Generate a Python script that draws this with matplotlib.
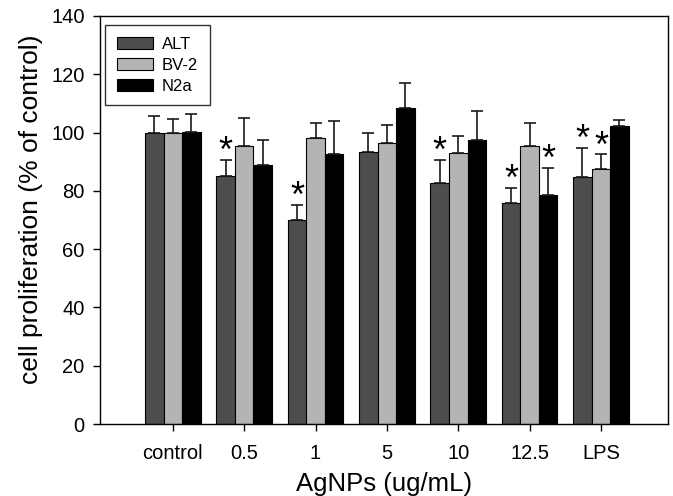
import numpy as np
import matplotlib.pyplot as plt

plt.rcParams['font.family'] = ['Liberation Sans', 'DejaVu Sans']

categories = ['control', '0.5', '1', '5', '10', '12.5', 'LPS']
alt = [100.0, 85.2, 70.0, 93.3, 82.8, 75.8, 84.9]
alt_err = [5.8, 5.3, 5.2, 6.5, 7.9, 5.2, 9.8]
bv2 = [100.0, 95.5, 98.1, 96.3, 92.9, 95.2, 87.5]
bv2_err = [4.6, 9.4, 5.3, 6.3, 6.0, 8.0, 5.0]
n2a = [100.1, 88.7, 92.7, 108.3, 97.6, 78.4, 102.4]
n2a_err = [6.3, 8.7, 11.3, 8.6, 9.8, 9.3, 2.0]
# significance marks (*)
alt_sig = [0, 1, 1, 0, 1, 1, 1]
bv2_sig = [0, 0, 0, 0, 0, 0, 1]
n2a_sig = [0, 0, 0, 0, 0, 1, 0]

series = [
    ('ALT', alt, alt_err, alt_sig, '#4d4d4d'),
    ('BV-2', bv2, bv2_err, bv2_sig, '#b4b4b4'),
    ('N2a', n2a, n2a_err, n2a_sig, '#000000'),
]

fig, ax = plt.subplots(figsize=(6.73, 4.96), dpi=100)
fig.subplots_adjust(left=0.1486, right=0.9926, bottom=0.145, top=0.968)

x = np.arange(len(categories))
w = 0.26
for i, (name, vals, errs, sig, col) in enumerate(series):
    pos = x + (i - 1) * w
    ax.bar(pos, vals, w, color=col, edgecolor='black', linewidth=0.8, label=name,
           yerr=[np.zeros(len(errs)), errs], capsize=4.5,
           error_kw=dict(elinewidth=1.2, capthick=1.2, ecolor='#1a1a1a'))
    for p, v, e, s in zip(pos, vals, errs, sig):
        if s:
            ax.annotate('*', (p, v + e), xytext=(0, -1.5), textcoords='offset points',
                        ha='center', va='baseline', fontsize=26)

ax.set_xlim(-1.02, 6.94)
ax.set_ylim(0, 140)
ax.set_yticks(range(0, 141, 20))
ax.set_xticks(x)
ax.set_xticklabels(categories)
ax.tick_params(axis='both', direction='out', length=5, labelsize=14.5, width=1)
ax.tick_params(axis='x', pad=9)
ax.tick_params(axis='y', pad=6)
ax.set_xlabel('AgNPs (ug/mL)', fontsize=18.5, labelpad=7)
ax.set_ylabel('cell proliferation (% of control)', fontsize=19)
ax.yaxis.set_label_coords(-0.1, 0.527)
for sp in ax.spines.values():
    sp.set_linewidth(1.0)

leg = ax.legend(loc='upper left', bbox_to_anchor=(5 / 568, 1 - 9 / 408),
                borderaxespad=0, fontsize=12, frameon=True, fancybox=False,
                edgecolor='black', handlelength=2.2, handleheight=0.8,
                handletextpad=0.5, borderpad=0.7, labelspacing=0.35)
leg.get_frame().set_linewidth(1.0)

fig.savefig('out.png', dpi=100)
